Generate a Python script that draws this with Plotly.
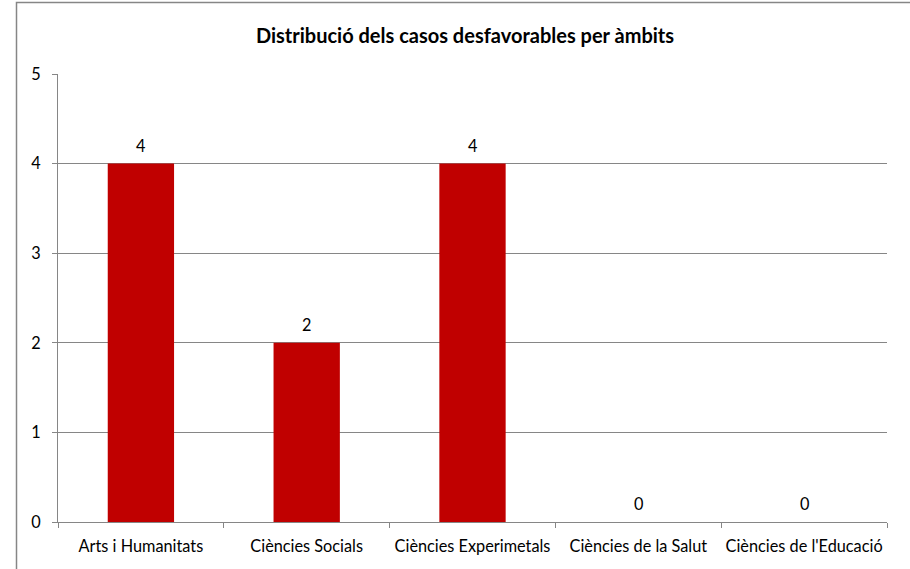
import plotly.graph_objects as go

categories = ["Arts i Humanitats", "Ciències Socials", "Ciències Experimetals",
              "Ciències de la Salut", "Ciències de l'Educació"]
values = [4, 2, 4, 0, 0]
title = "Distribució dels casos desfavorables per àmbits"

font_family = "Lato, sans-serif"
grid_col = "#868686"
fs = 16.3

W, H = 910, 569
L, R, T, B = 58, 23, 74, 47
pw, ph = W - L - R, H - T - B

fig = go.Figure()
fig.add_trace(go.Bar(
    x=categories, y=values,
    marker=dict(color="#C00000", line=dict(width=0)),
    width=0.4,
    hoverinfo="x+y",
))

for c, v in zip(categories, values):
    fig.add_annotation(x=c, y=v, text=str(v), showarrow=False,
                       yanchor="bottom", yshift=7,
                       font=dict(size=fs, color="#000000", family=font_family))

# chart area border (outer frame)
fig.add_shape(type="rect", xref="paper", yref="paper",
              x0=(16.5 - L) / pw, x1=1.5, y0=-0.5, y1=1 + (T - 2.5) / ph,
              line=dict(color="#868686", width=1.5), layer="below")

fig.update_layout(
    width=W, height=H,
    margin=dict(l=L, r=R, t=T, b=B, autoexpand=False),
    paper_bgcolor="white", plot_bgcolor="white",
    showlegend=False,
    font=dict(family=font_family, size=fs, color="#000000"),
    title=dict(text="<b>" + title + "</b>", x=465 / W, xanchor="center",
               y=1 - 36 / H, yanchor="middle",
               font=dict(size=20, family=font_family, color="#000000")),
    bargap=0.6,
)
fig.update_xaxes(
    type="category", tickson="boundaries", ticks="outside", ticklen=5,
    tickcolor=grid_col, showline=True, linecolor=grid_col, linewidth=1,
    showgrid=False, tickfont=dict(size=fs, family=font_family),
    range=[-0.5, 4.5], ticklabelstandoff=9, tickangle=0, automargin=False,
)
fig.update_yaxes(
    range=[0, 5], dtick=1, tick0=0, ticks="outside", ticklen=5,
    tickcolor=grid_col, showline=True, linecolor=grid_col, linewidth=1,
    showgrid=True, gridcolor=grid_col, gridwidth=1, zeroline=False,
    tickfont=dict(size=fs, family=font_family), ticklabelstandoff=8,
    automargin=False,
)

fig.write_html("out.html", config={"displayModeBar": False},
               post_script="document.body.style.margin='0';document.body.style.overflow='hidden';")
